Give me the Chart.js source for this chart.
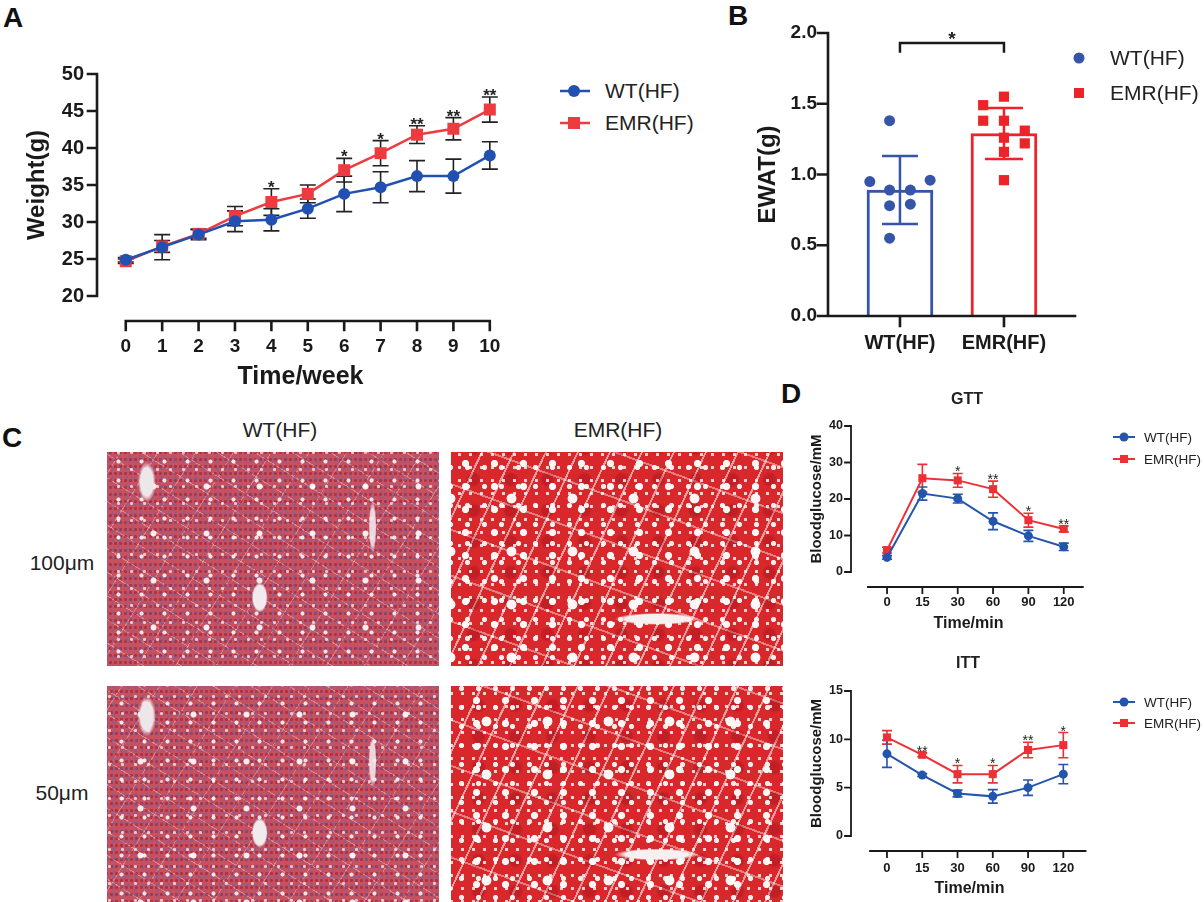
<!DOCTYPE html>
<html>
<head>
<meta charset="utf-8">
<script src="https://cdn.jsdelivr.net/npm/chart.js@4.4.0/dist/chart.umd.min.js"></script>
<style>
body { margin: 0; background: #fff; font-family: 'Liberation Sans', Arial, sans-serif; }
#fig { position: relative; width: 1204px; height: 902px; overflow: hidden; }
canvas { position: absolute; }
.letter { position: absolute; font-weight: bold; font-size: 28px; line-height: 28px; color: #111; }
.txt { position: absolute; color: #222; white-space: nowrap; }
.leg { position: absolute; display: flex; align-items: center; color: #222; white-space: nowrap; }
.histo { position: absolute; width: 332px; height: 214px; }
.wt {
  background:
    radial-gradient(ellipse 8px 15px at 46% 68%, #f1ebee 0 80%, transparent 100%),
    radial-gradient(ellipse 9px 20px at 12% 14%, #eee7ea 0 70%, transparent 100%),
    radial-gradient(ellipse 4px 26px at 80% 35%, rgba(240,230,236,.9) 0 70%, transparent 100%),
    radial-gradient(circle at 50% 50%, rgba(255,255,255,.9) 0 2.6px, transparent 3.4px) 20px 11px/53px 47px,
    radial-gradient(circle at 50% 50%, rgba(255,255,255,.85) 0 1.7px, transparent 2.4px) 0 0/23px 19px,
    radial-gradient(circle at 50% 50%, rgba(255,255,255,.7) 0 1.2px, transparent 1.9px) 5px 9px/13px 17px,
    radial-gradient(circle at 50% 50%, rgba(95,100,180,.5) 0 1px, transparent 1.8px) 2px 3px/7px 9px,
    radial-gradient(circle at 50% 50%, rgba(95,100,180,.4) 0 1px, transparent 1.7px) 6px 1px/11px 6px,
    radial-gradient(circle at 50% 50%, rgba(150,15,35,.5) 0 1.2px, transparent 2px) 1px 4px/5px 7px,
    repeating-linear-gradient(32deg, transparent 0 19px, rgba(255,235,240,.35) 19px 20px),
    repeating-linear-gradient(-58deg, transparent 0 31px, rgba(255,235,240,.3) 31px 32px),
    #c65260;
}
.emr {
  background:
    radial-gradient(ellipse 42px 6px at 62% 78%, #f6f0f0 0 75%, transparent 100%),
    radial-gradient(circle at 50% 50%, rgba(255,255,255,.95) 0 4.5px, transparent 5.3px) 30px 20px/61px 53px,
    radial-gradient(circle at 50% 50%, rgba(255,255,255,.95) 0 3.2px, transparent 4px) 0 0/29px 23px,
    radial-gradient(circle at 50% 50%, rgba(255,255,255,.9) 0 2.2px, transparent 3px) 8px 6px/17px 19px,
    radial-gradient(circle at 50% 50%, rgba(255,255,255,.8) 0 1.4px, transparent 2px) 3px 9px/11px 13px,
    radial-gradient(circle at 50% 50%, rgba(140,10,20,.3) 0 5px, transparent 8px) 4px 12px/37px 31px,
    repeating-linear-gradient(115deg, transparent 0 27px, rgba(255,255,255,.55) 27px 29px),
    repeating-linear-gradient(20deg, transparent 0 41px, rgba(255,255,255,.4) 41px 43px),
    #d8282c;
}
</style>
</head>
<body>
<div id="fig">
  <div class="letter" style="left:3px;top:4px">A</div>
  <div class="letter" style="left:728px;top:2px">B</div>
  <div class="letter" style="left:2px;top:424px">C</div>
  <div class="letter" style="left:781px;top:380px">D</div>

  <canvas id="chartA" width="540" height="400" style="left:0;top:0"></canvas>
  <canvas id="chartB" width="464" height="380" style="left:740px;top:0"></canvas>
  <canvas id="chartGtt" width="424" height="260" style="left:780px;top:380px"></canvas>
  <canvas id="chartItt" width="424" height="262" style="left:780px;top:640px"></canvas>

  <!-- legend A -->
  <div class="leg" style="left:560px;top:79px;height:24px;font-size:21px">
    <svg width="30" height="14"><line x1="0" y1="7" x2="30" y2="7" stroke="#2050b2" stroke-width="2.5"/><circle cx="14" cy="7" r="6" fill="#2050b2"/></svg>
    <span style="margin-left:15px">WT(HF)</span>
  </div>
  <div class="leg" style="left:560px;top:111px;height:24px;font-size:21px">
    <svg width="30" height="14"><line x1="0" y1="7" x2="30" y2="7" stroke="#ee3b3f" stroke-width="2.5"/><rect x="8" y="1" width="12" height="12" fill="#ee3b3f"/></svg>
    <span style="margin-left:15px">EMR(HF)</span>
  </div>

  <!-- legend B -->
  <div class="leg" style="left:1072px;top:46px;height:24px;font-size:21px">
    <svg width="14" height="14"><circle cx="7" cy="7" r="5.5" fill="#3655a8"/></svg>
    <span style="margin-left:24px">WT(HF)</span>
  </div>
  <div class="leg" style="left:1072px;top:81px;height:24px;font-size:21px">
    <svg width="14" height="14"><rect x="2" y="2" width="10" height="10" fill="#ec2329"/></svg>
    <span style="margin-left:24px">EMR(HF)</span>
  </div>

  <!-- panel C -->
  <div class="txt" style="left:230px;top:418px;width:100px;text-align:center;font-size:21px">WT(HF)</div>
  <div class="txt" style="left:563px;top:418px;width:110px;text-align:center;font-size:21px">EMR(HF)</div>
  <div class="txt" style="left:22px;top:551px;width:80px;text-align:center;font-size:21px">100μm</div>
  <div class="txt" style="left:22px;top:781px;width:80px;text-align:center;font-size:21px">50μm</div>
  <div class="histo wt" style="left:107px;top:452px"></div>
  <div class="histo emr" style="left:451px;top:452px"></div>
  <div class="histo wt" style="left:107px;top:686px;height:216px;background-position:30% 90%,20% 40%,70% 60%,7px 5px,3px 8px,9px 2px,4px 6px,1px 3px,2px 2px,0 0,0 0,0 0"></div>
  <div class="histo emr" style="left:451px;top:686px;height:216px;background-position:40% 20%,5px 9px,11px 3px,2px 12px,6px 1px,9px 4px,0 0,0 0,0 0"></div>

  <!-- panel D titles and legends -->
  <div class="txt" style="left:937px;top:390px;width:60px;text-align:center;font-size:16px;font-weight:bold">GTT</div>
  <div class="txt" style="left:938px;top:654px;width:60px;text-align:center;font-size:16px;font-weight:bold">ITT</div>
  <div class="leg" style="left:1113px;top:429px;height:16px;font-size:13.5px">
    <svg width="22" height="10"><line x1="0" y1="5" x2="22" y2="5" stroke="#2355ad" stroke-width="2"/><circle cx="11" cy="5" r="4.5" fill="#2355ad"/></svg>
    <span style="margin-left:9px">WT(HF)</span>
  </div>
  <div class="leg" style="left:1113px;top:451px;height:16px;font-size:13.5px">
    <svg width="22" height="10"><line x1="0" y1="5" x2="22" y2="5" stroke="#ee3036" stroke-width="2"/><rect x="7" y="1" width="8" height="8" fill="#ee3036"/></svg>
    <span style="margin-left:9px">EMR(HF)</span>
  </div>
  <div class="leg" style="left:1113px;top:694px;height:16px;font-size:13.5px">
    <svg width="22" height="10"><line x1="0" y1="5" x2="22" y2="5" stroke="#2355ad" stroke-width="2"/><circle cx="11" cy="5" r="4.5" fill="#2355ad"/></svg>
    <span style="margin-left:9px">WT(HF)</span>
  </div>
  <div class="leg" style="left:1113px;top:715px;height:16px;font-size:13.5px">
    <svg width="22" height="10"><line x1="0" y1="5" x2="22" y2="5" stroke="#ee3036" stroke-width="2"/><rect x="7" y="1" width="8" height="8" fill="#ee3036"/></svg>
    <span style="margin-left:9px">EMR(HF)</span>
  </div>
</div>

<script>
// ---- data ----
const weeks = [0, 1, 2, 3, 4, 5, 6, 7, 8, 9, 10];
const wtWeight = [24.9, 26.6, 28.3, 30.1, 30.3, 31.8, 33.8, 34.7, 36.2, 36.2, 39.0];
const wtWeightSd = [0.3, 1.7, 0.7, 1.4, 1.5, 1.3, 2.4, 2.1, 2.1, 2.3, 1.85];
const emrWeight = [24.7, 26.7, 28.4, 30.8, 32.7, 33.8, 37.0, 39.3, 41.8, 42.6, 45.2];
const emrWeightSd = [0.3, 0.8, 0.6, 1.3, 1.8, 1.2, 1.6, 1.7, 1.2, 1.5, 1.7];
const weightStars = ['', '', '', '', '*', '', '*', '*', '**', '**', '**'];
const weightTicks = [20, 25, 30, 35, 40, 45, 50];

const groups = ['WT(HF)', 'EMR(HF)'];
const wtEwat = [1.38, 0.95, 0.89, 0.89, 0.96, 0.78, 0.79, 0.55];
const emrEwat = [1.49, 1.55, 1.38, 1.38, 1.31, 1.26, 1.22, 1.16, 0.96];
const wtLane = [-0.1, -0.29, -0.1, 0.1, 0.29, -0.1, 0.1, -0.1];
const emrLane = [-0.2, 0, -0.2, 0, 0.2, 0, 0.2, 0, 0];
const ewatMean = [0.89, 1.29];
const ewatSd = [0.24, 0.18];
const ewatTicks = [0, 0.5, 1.0, 1.5, 2.0];

const times = ['0', '15', '30', '60', '90', '120'];
const wtGtt = [4.0, 21.5, 20.1, 13.9, 9.9, 6.9];
const wtGttSd = [0.5, 1.8, 1.2, 2.3, 1.5, 1.0];
const emrGtt = [6.0, 25.7, 25.1, 22.7, 14.2, 11.8];
const emrGttSd = [0.8, 3.8, 1.9, 2.2, 1.9, 0.8];
const gttStars = ['', '', '*', '**', '*', '**'];
const gttTicks = [0, 10, 20, 30, 40];

const wtItt = [8.5, 6.3, 4.4, 4.1, 5.0, 6.4];
const wtIttSd = [1.4, 0.15, 0.35, 0.7, 0.8, 1.0];
const emrItt = [10.2, 8.4, 6.4, 6.4, 8.9, 9.4];
const emrIttSd = [0.7, 0.2, 0.9, 0.9, 0.8, 1.3];
const ittStars = ['', '**', '*', '*', '**', '*'];
const ittTicks = [0, 5, 10, 15];

const BLUE = '#2050b2';
const RED = '#ee3b3f';
const FONT = "'Liberation Sans', Arial, sans-serif";

const pts = (xs, ys) => xs.map((x, i) => ({ x: x, y: ys[i] }));
const idx = times.map((t, i) => i);

// error bars, detached prism-style axes, stars and brackets
const figPlugin = {
  id: 'fig',
  beforeDatasetsDraw(chart, args, o) {
    (o.errors || []).filter(e => e.after === undefined).forEach(e => drawErr(chart, e));
  },
  afterDatasetDraw(chart, args, o) {
    (o.errors || []).filter(e => e.after === args.index).forEach(e => drawErr(chart, e));
  },
  afterDraw(chart, args, o) {
    const ctx = chart.ctx, xs = chart.scales.x, ys = chart.scales.y;
    const ax = o.axes;
    ctx.save();
    ctx.strokeStyle = '#1a1a1a';
    ctx.lineWidth = ax.width;
    ctx.lineCap = 'square';
    // y axis
    const left = chart.chartArea.left;
    const yTop = ys.getPixelForValue(ax.yTicks[ax.yTicks.length - 1]);
    const yBot = ys.getPixelForValue(ax.yTicks[0]);
    ctx.beginPath();
    ctx.moveTo(left, yTop); ctx.lineTo(left, yBot);
    ax.yTicks.forEach(v => {
      const p = ys.getPixelForValue(v);
      ctx.moveTo(left - ax.tickLen, p); ctx.lineTo(left, p);
    });
    // x axis
    const xy = chart.chartArea.bottom + ax.gap;
    ctx.moveTo(xs.getPixelForValue(ax.xFrom), xy);
    ctx.lineTo(xs.getPixelForValue(ax.xTo), xy);
    ax.xTicks.forEach(v => {
      const p = xs.getPixelForValue(v);
      ctx.moveTo(p, xy); ctx.lineTo(p, xy + ax.tickLen);
    });
    ctx.stroke();
    ctx.restore();

    if (o.stars) {
      const s = o.stars;
      ctx.save();
      ctx.fillStyle = '#222';
      ctx.font = s.font;
      ctx.textAlign = 'center';
      ctx.textBaseline = 'alphabetic';
      s.labels.forEach((lab, i) => {
        if (!lab) return;
        ctx.fillText(lab, xs.getPixelForValue(s.x[i]), ys.getPixelForValue(s.mean[i] + s.sd[i]) + s.dy);
      });
      ctx.restore();
    }
    if (o.bracket) {
      const b = o.bracket;
      const x1 = xs.getPixelForValue(b.from), x2 = xs.getPixelForValue(b.to);
      const y1 = ys.getPixelForValue(b.y), y2 = ys.getPixelForValue(b.drop);
      ctx.save();
      ctx.strokeStyle = '#1a1a1a';
      ctx.lineWidth = 2.5;
      ctx.beginPath();
      ctx.moveTo(x1, y2); ctx.lineTo(x1, y1); ctx.lineTo(x2, y1); ctx.lineTo(x2, y2);
      ctx.stroke();
      ctx.fillStyle = '#222';
      ctx.font = b.font;
      ctx.textAlign = 'center';
      ctx.fillText(b.label, (x1 + x2) / 2, y1 + 2);
      ctx.restore();
    }
  }
};

function drawErr(chart, e) {
  const ctx = chart.ctx, xs = chart.scales.x, ys = chart.scales.y;
  ctx.save();
  ctx.strokeStyle = e.color;
  ctx.lineWidth = e.width;
  ctx.beginPath();
  e.x.forEach((xv, i) => {
    const px = xs.getPixelForValue(xv);
    const lo = ys.getPixelForValue(e.mean[i] - e.sd[i]);
    const hi = ys.getPixelForValue(e.mean[i] + e.sd[i]);
    ctx.moveTo(px, lo); ctx.lineTo(px, hi);
    ctx.moveTo(px - e.cap, lo); ctx.lineTo(px + e.cap, lo);
    ctx.moveTo(px - e.cap, hi); ctx.lineTo(px + e.cap, hi);
  });
  ctx.stroke();
  ctx.restore();
}

function axisX(min, max, tickVals, fmt, fontSize, pad, title, titleSize, titlePad, height) {
  return {
    type: 'linear', min: min, max: max, offset: false,
    grid: { display: false, drawTicks: false }, border: { display: false },
    afterBuildTicks: s => { s.ticks = tickVals.map(v => ({ value: v })); },
    afterFit: s => { s.height = height; },
    ticks: { color: '#1a1a1a', padding: pad, maxRotation: 0, autoSkip: false,
             font: { family: FONT, size: fontSize, weight: 'bold' }, callback: fmt },
    title: { display: !!title, text: title, color: '#1a1a1a', padding: { top: 0, bottom: titlePad },
             font: { family: FONT, size: titleSize, weight: 'bold' } }
  };
}

function axisY(min, max, tickVals, fmt, fontSize, pad, title, titleSize, titlePad, width) {
  return {
    type: 'linear', min: min, max: max,
    grid: { display: false, drawTicks: false }, border: { display: false },
    afterBuildTicks: s => { s.ticks = tickVals.map(v => ({ value: v })); },
    afterFit: s => { s.width = width; },
    ticks: { color: '#1a1a1a', padding: pad,
             font: { family: FONT, size: fontSize, weight: 'bold' }, callback: fmt },
    title: { display: true, text: title, color: '#1a1a1a', padding: { top: titlePad, bottom: 0 },
             font: { family: FONT, size: titleSize, weight: 'bold' } }
  };
}

const common = {
  responsive: false,
  animation: false,
  events: [],
  plugins: { legend: { display: false }, tooltip: { enabled: false } }
};

// ---- A: body weight ----
new Chart(document.getElementById('chartA'), {
  type: 'line',
  data: {
    datasets: [
      { label: 'WT(HF)', data: pts(weeks, wtWeight), borderColor: BLUE, backgroundColor: BLUE,
        borderWidth: 2.5, pointRadius: 6, pointBorderWidth: 0, pointStyle: 'circle' },
      { label: 'EMR(HF)', data: pts(weeks, emrWeight), borderColor: RED, backgroundColor: RED,
        borderWidth: 2.5, pointRadius: 8.5, pointBorderWidth: 0, pointStyle: 'rect' }
    ]
  },
  options: Object.assign({}, common, {
    layout: { padding: { top: 74, right: 18, bottom: 0, left: 0 } },
    scales: {
      x: axisX(-0.79, 10.39, weeks, v => String(v), 19, 39, 'Time/week', 25, 8, 104),
      y: axisY(20, 50, weightTicks, v => String(v), 20, 13, 'Weight(g)', 24, 23, 97)
    },
    plugins: Object.assign({}, common.plugins, {
      fig: {
        errors: [
          { x: weeks, mean: emrWeight, sd: emrWeightSd, color: '#222', width: 1.6, cap: 8 },
          { x: weeks, mean: wtWeight, sd: wtWeightSd, color: '#222', width: 1.6, cap: 8 }
        ],
        axes: { width: 2.6, tickLen: 9, gap: 25, yTicks: weightTicks, xTicks: weeks, xFrom: 0, xTo: 10 },
        stars: { x: weeks, mean: emrWeight, sd: emrWeightSd, labels: weightStars,
                 font: 'bold 17px ' + FONT, dy: 4 }
      }
    })
  }),
  plugins: [figPlugin]
});

// ---- B: EWAT ----
new Chart(document.getElementById('chartB'), {
  type: 'bar',
  data: {
    datasets: [
      { type: 'scatter', label: 'WT(HF)', data: pts(wtLane.map(d => 0 + d), wtEwat),
        backgroundColor: '#3655a8', borderWidth: 0, pointRadius: 5.5, pointStyle: 'circle' },
      { type: 'scatter', label: 'EMR(HF)', data: pts(emrLane.map(d => 1 + d), emrEwat),
        backgroundColor: '#ec2329', borderWidth: 0, pointRadius: 7.2, pointStyle: 'rect' },
      { type: 'bar', label: 'mean', data: pts([0, 1], ewatMean),
        backgroundColor: '#ffffff', borderColor: ['#3655a8', '#ec2329'], borderWidth: 3,
        barThickness: 66 }
    ]
  },
  options: Object.assign({}, common, {
    layout: { padding: { top: 33, right: 129, bottom: 0, left: 0 } },
    scales: {
      x: axisX(-0.692, 1.683, [0, 1], v => groups[v], 20, 15, '', 10, 0, 64),
      y: axisY(0, 2, ewatTicks, v => v.toFixed(1), 19, 11, 'EWAT(g)', 24, 14, 88)
    },
    plugins: Object.assign({}, common.plugins, {
      fig: {
        errors: [
          { x: [0], mean: [ewatMean[0]], sd: [ewatSd[0]], color: '#3655a8', width: 2.5, cap: 18, after: 2 },
          { x: [1], mean: [ewatMean[1]], sd: [ewatSd[1]], color: '#ec2329', width: 2.5, cap: 19, after: 2 }
        ],
        axes: { width: 2.6, tickLen: 10, gap: 0, yTicks: ewatTicks, xTicks: [0, 1], xFrom: -0.692, xTo: 1.683 },
        bracket: { from: 0, to: 1, y: 1.93, drop: 1.86, label: '*', font: 'bold 19px ' + FONT }
      }
    })
  }),
  plugins: [figPlugin]
});

// ---- D: GTT / ITT ----
function tolerance(id, wt, wtSd, emr, emrSd, stars, yTicks, padTop, xMax, xFrom, xTo, tickPad, titlePad, xHeight) {
  const B2 = '#2355ad', R2 = '#ee3036';
  return new Chart(document.getElementById(id), {
    type: 'line',
    data: {
      datasets: [
        { label: 'WT(HF)', data: pts(idx, wt), borderColor: B2, backgroundColor: B2,
          borderWidth: 2, pointRadius: 4.5, pointBorderWidth: 0, pointStyle: 'circle' },
        { label: 'EMR(HF)', data: pts(idx, emr), borderColor: R2, backgroundColor: R2,
          borderWidth: 2, pointRadius: 5.7, pointBorderWidth: 0, pointStyle: 'rect' }
      ]
    },
    options: Object.assign({}, common, {
      layout: { padding: { top: padTop, right: 424 - 71 - Math.round((xMax + 1.02) * 35.3), bottom: 0, left: 0 } },
      scales: {
        x: axisX(-1.02, xMax, idx, v => times[v], 13, tickPad, 'Time/min', 16, titlePad, xHeight),
        y: axisY(yTicks[0], yTicks[yTicks.length - 1], yTicks, v => String(v), 12.5, 8, 'Bloodglucose/mM', 15, 28, 71)
      },
      plugins: Object.assign({}, common.plugins, {
        fig: {
          errors: [
            { x: idx, mean: emr, sd: emrSd, color: R2, width: 1.6, cap: 5 },
            { x: idx, mean: wt, sd: wtSd, color: B2, width: 1.6, cap: 5 }
          ],
          axes: { width: 1.8, tickLen: 6, gap: 15, yTicks: yTicks, xTicks: idx, xFrom: xFrom, xTo: xTo },
          stars: { x: idx, mean: emr, sd: emrSd, labels: stars, font: '14px ' + FONT, dy: 3 }
        }
      })
    }),
    plugins: [figPlugin]
  });
}

tolerance('chartGtt', wtGtt, wtGttSd, emrGtt, emrGttSd, gttStars, gttTicks, 46, 5.63, -0.54, 5.54, 23, 7, 68);
tolerance('chartItt', wtItt, wtIttSd, emrItt, emrIttSd, ittStars, ittTicks, 51, 5.7, -0.48, 5.63, 25, 4, 66);
</script>
</body>
</html>
